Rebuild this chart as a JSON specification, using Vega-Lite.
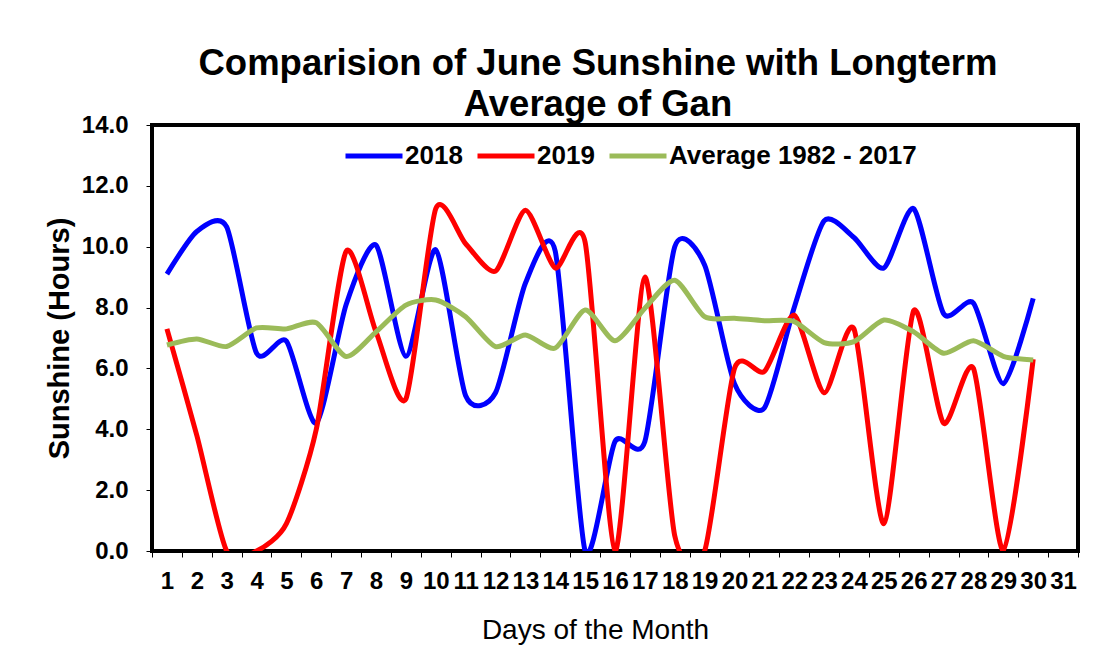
{
  "$schema": "https://vega.github.io/schema/vega-lite/v6.json",
  "width": 926,
  "height": 426,
  "autosize": {"type": "none"},
  "padding": {"left": 152, "top": 125, "right": 30, "bottom": 112},
  "background": "white",
  "title": {
    "text": ["Comparision of June Sunshine with Longterm", "Average of Gan"],
    "fontSize": 36.5,
    "fontWeight": "bold",
    "font": "Liberation Sans",
    "color": "black",
    "lineHeight": 41,
    "offset": -10,
    "dx": -17,
    "anchor": "middle"
  },
  "config": {
    "font": "Liberation Sans",
    "view": {"stroke": "black", "strokeWidth": 4}
  },
  "data": {
    "values": [
      {"day": 1, "series": "2018", "hours": 9.1},
      {"day": 2, "series": "2018", "hours": 10.5},
      {"day": 3, "series": "2018", "hours": 10.65},
      {"day": 4, "series": "2018", "hours": 6.5},
      {"day": 5, "series": "2018", "hours": 6.9},
      {"day": 6, "series": "2018", "hours": 4.2},
      {"day": 7, "series": "2018", "hours": 8.1},
      {"day": 8, "series": "2018", "hours": 10.05},
      {"day": 9, "series": "2018", "hours": 6.4},
      {"day": 10, "series": "2018", "hours": 9.9},
      {"day": 11, "series": "2018", "hours": 5.1},
      {"day": 12, "series": "2018", "hours": 5.2},
      {"day": 13, "series": "2018", "hours": 8.8},
      {"day": 14, "series": "2018", "hours": 9.85},
      {"day": 15, "series": "2018", "hours": 0.0},
      {"day": 16, "series": "2018", "hours": 3.6},
      {"day": 17, "series": "2018", "hours": 3.6},
      {"day": 18, "series": "2018", "hours": 10.0},
      {"day": 19, "series": "2018", "hours": 9.4},
      {"day": 20, "series": "2018", "hours": 5.5},
      {"day": 21, "series": "2018", "hours": 4.7},
      {"day": 22, "series": "2018", "hours": 8.0},
      {"day": 23, "series": "2018", "hours": 10.85},
      {"day": 24, "series": "2018", "hours": 10.3},
      {"day": 25, "series": "2018", "hours": 9.3},
      {"day": 26, "series": "2018", "hours": 11.25},
      {"day": 27, "series": "2018", "hours": 7.8},
      {"day": 28, "series": "2018", "hours": 8.15},
      {"day": 29, "series": "2018", "hours": 5.5},
      {"day": 30, "series": "2018", "hours": 8.3},
      {"day": 1, "series": "2019", "hours": 7.3},
      {"day": 2, "series": "2019", "hours": 3.8},
      {"day": 3, "series": "2019", "hours": 0.0},
      {"day": 4, "series": "2019", "hours": 0.0},
      {"day": 5, "series": "2019", "hours": 0.9},
      {"day": 6, "series": "2019", "hours": 4.0},
      {"day": 7, "series": "2019", "hours": 9.85},
      {"day": 8, "series": "2019", "hours": 7.2},
      {"day": 9, "series": "2019", "hours": 5.0},
      {"day": 10, "series": "2019", "hours": 11.25},
      {"day": 11, "series": "2019", "hours": 10.1},
      {"day": 12, "series": "2019", "hours": 9.2},
      {"day": 13, "series": "2019", "hours": 11.2},
      {"day": 14, "series": "2019", "hours": 9.3},
      {"day": 15, "series": "2019", "hours": 10.15},
      {"day": 16, "series": "2019", "hours": 0.0},
      {"day": 17, "series": "2019", "hours": 9.0},
      {"day": 18, "series": "2019", "hours": 0.5},
      {"day": 19, "series": "2019", "hours": 0.0},
      {"day": 20, "series": "2019", "hours": 6.0},
      {"day": 21, "series": "2019", "hours": 5.9},
      {"day": 22, "series": "2019", "hours": 7.75},
      {"day": 23, "series": "2019", "hours": 5.2},
      {"day": 24, "series": "2019", "hours": 7.3},
      {"day": 25, "series": "2019", "hours": 0.9},
      {"day": 26, "series": "2019", "hours": 7.9},
      {"day": 27, "series": "2019", "hours": 4.2},
      {"day": 28, "series": "2019", "hours": 6.0},
      {"day": 29, "series": "2019", "hours": 0.0},
      {"day": 30, "series": "2019", "hours": 6.3},
      {"day": 1, "series": "Average 1982 - 2017", "hours": 6.77},
      {"day": 2, "series": "Average 1982 - 2017", "hours": 6.97},
      {"day": 3, "series": "Average 1982 - 2017", "hours": 6.72},
      {"day": 4, "series": "Average 1982 - 2017", "hours": 7.33},
      {"day": 5, "series": "Average 1982 - 2017", "hours": 7.3},
      {"day": 6, "series": "Average 1982 - 2017", "hours": 7.5},
      {"day": 7, "series": "Average 1982 - 2017", "hours": 6.39},
      {"day": 8, "series": "Average 1982 - 2017", "hours": 7.2},
      {"day": 9, "series": "Average 1982 - 2017", "hours": 8.08},
      {"day": 10, "series": "Average 1982 - 2017", "hours": 8.25},
      {"day": 11, "series": "Average 1982 - 2017", "hours": 7.7},
      {"day": 12, "series": "Average 1982 - 2017", "hours": 6.72},
      {"day": 13, "series": "Average 1982 - 2017", "hours": 7.1},
      {"day": 14, "series": "Average 1982 - 2017", "hours": 6.67},
      {"day": 15, "series": "Average 1982 - 2017", "hours": 7.92},
      {"day": 16, "series": "Average 1982 - 2017", "hours": 6.91},
      {"day": 17, "series": "Average 1982 - 2017", "hours": 7.98},
      {"day": 18, "series": "Average 1982 - 2017", "hours": 8.9},
      {"day": 19, "series": "Average 1982 - 2017", "hours": 7.7},
      {"day": 20, "series": "Average 1982 - 2017", "hours": 7.65},
      {"day": 21, "series": "Average 1982 - 2017", "hours": 7.57},
      {"day": 22, "series": "Average 1982 - 2017", "hours": 7.54},
      {"day": 23, "series": "Average 1982 - 2017", "hours": 6.85},
      {"day": 24, "series": "Average 1982 - 2017", "hours": 6.88},
      {"day": 25, "series": "Average 1982 - 2017", "hours": 7.59},
      {"day": 26, "series": "Average 1982 - 2017", "hours": 7.2},
      {"day": 27, "series": "Average 1982 - 2017", "hours": 6.5},
      {"day": 28, "series": "Average 1982 - 2017", "hours": 6.91},
      {"day": 29, "series": "Average 1982 - 2017", "hours": 6.4},
      {"day": 30, "series": "Average 1982 - 2017", "hours": 6.28}
    ]
  },
  "mark": {"type": "line", "interpolate": "cardinal", "tension": 0.3, "strokeWidth": 5, "clip": true},
  "encoding": {
    "x": {
      "field": "day",
      "type": "ordinal",
      "bandPosition": 0.5,
      "scale": {"type": "band", "paddingInner": 0, "paddingOuter": 0,
        "domain": [1,2,3,4,5,6,7,8,9,10,11,12,13,14,15,16,17,18,19,20,21,22,23,24,25,26,27,28,29,30,31]},
      "axis": {
        "title": "Days of the Month",
        "titleFontSize": 28,
        "titleFontWeight": "normal",
        "titleColor": "black",
        "titlePadding": 23,
        "titleX": 443,
        "labelAngle": 0,
        "labelFontSize": 24,
        "labelFontWeight": "bold",
        "labelColor": "black",
        "labelPadding": 12,
        "labelOverlap": false,
        "labelBound": false,
        "tickBand": "extent",
        "tickSize": 6,
        "tickColor": "black",
        "tickWidth": 1,
        "domain": false,
        "grid": false
      }
    },
    "y": {
      "field": "hours",
      "type": "quantitative",
      "scale": {"domain": [0, 14], "nice": false, "zero": true},
      "axis": {
        "title": "Sunshine (Hours)",
        "titleFontSize": 29,
        "titleFontWeight": "bold",
        "titleColor": "black",
        "titlePadding": 7,
        "values": [0, 2, 4, 6, 8, 10, 12, 14],
        "format": ".1f",
        "labelFontSize": 24,
        "labelFontWeight": "bold",
        "labelColor": "black",
        "labelPadding": 18,
        "tickSize": 6,
        "tickColor": "black",
        "tickWidth": 1,
        "domain": false,
        "grid": false
      }
    },
    "color": {
      "field": "series",
      "type": "nominal",
      "sort": ["2018", "2019", "Average 1982 - 2017"],
      "scale": {"domain": ["2018", "2019", "Average 1982 - 2017"], "range": ["#0000FF", "#FF0000", "#9BBB59"]},
      "legend": {
        "title": null,
        "orient": "none",
        "direction": "horizontal",
        "legendX": 191,
        "legendY": 0,
        "symbolType": "stroke",
        "symbolSize": 3249,
        "symbolStrokeWidth": 5,
        "labelFontSize": 26,
        "labelFontWeight": "bold",
        "labelColor": "black",
        "labelOffset": 0,
        "columnPadding": 4,
        "labelLimit": 400
      }
    }
  }
}
